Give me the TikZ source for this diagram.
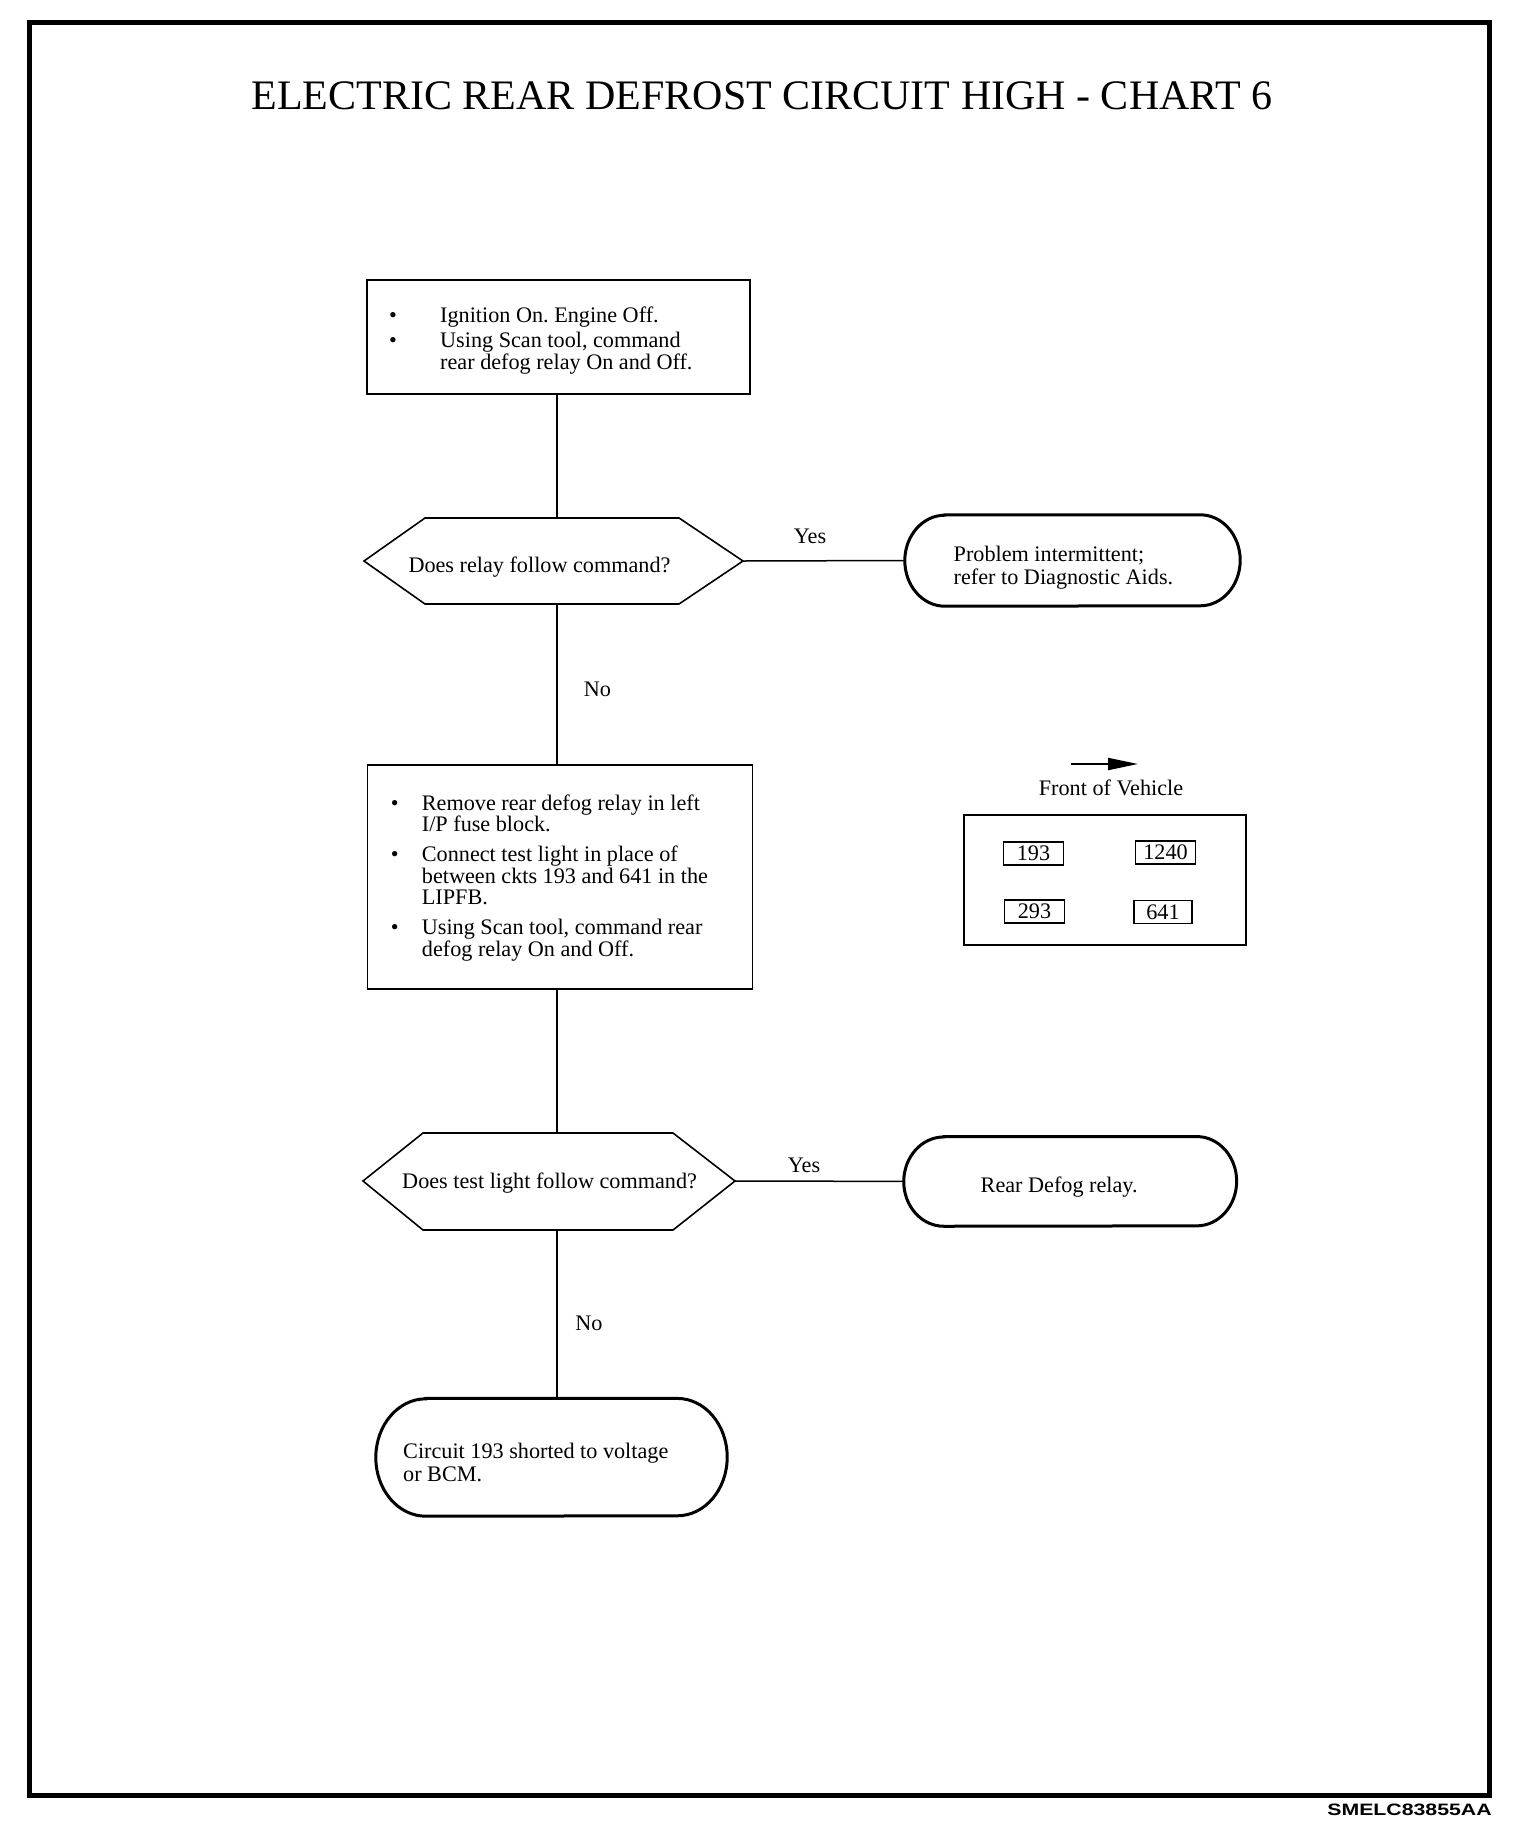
\documentclass[tikz,border=0pt]{standalone}
\usepackage{fontspec}
\setmainfont{Liberation Serif}
\newfontfamily\codefont{Liberation Sans}
\usetikzlibrary{arrows.meta,calc}
\frenchspacing
\newcommand\termoutline[3]{%
  \draw[termline] ($(#1.north west)+(#2,0)$) -- ($(#1.north east)+(-#2,0)$)
    arc[start angle=-90,end angle=90,x radius=#2,y radius=#3]
    -- ($(#1.south west)+(#2,0)$)
    arc[start angle=90,end angle=270,x radius=#2,y radius=#3] -- cycle;}
\begin{document}
\begin{tikzpicture}[x=1pt,y=-1pt,
  bodyfont/.style={font=\fontsize{22.2}{21.5}\selectfont},
  txt/.style={bodyfont, inner sep=0},
  btxt/.style={bodyfont, inner sep=0, align=left, anchor=west},
  ttxt/.style={font=\fontsize{22.2}{23.5}\selectfont, inner sep=0, align=left, anchor=west},
  procbox/.style={draw, line width=1.8, inner sep=0},
  termbox/.style={inner sep=0},
  termline/.style={line width=3},
  hexa/.style={draw, line width=1.6, line join=miter},
  conn/.style={line width=1.5},
  pinbox/.style={draw, line width=1.8, minimum width=60, minimum height=23, inner sep=0, bodyfont},
]
\useasboundingbox (0,0) rectangle (1536,1842);
% frame
\draw[line width=5] (29.5,22.5) rectangle (1489.5,1795.5);
\node[inner sep=0, font=\fontsize{42}{42}\selectfont] (title) at (762,96) {ELECTRIC REAR DEFROST CIRCUIT HIGH - CHART 6};
\node[inner sep=0, anchor=east, font=\codefont\bfseries\fontsize{16.5}{16.5}\selectfont, xscale=1.29] (code) at (1492,1810) {SMELC83855AA};

% box 1
\node[procbox, minimum width=383, minimum height=114] (b1) at (558.5,337) {};
\node[btxt] (b1text) at (389,340.5)
{\makebox[51pt][l]{\textbullet}Ignition On. Engine Off.\\[4pt]
\makebox[51pt][l]{\textbullet}Using Scan tool, command\\
\hspace*{51pt}rear defog relay On and Off.};

% decision 1
\coordinate (d1W) at (364,561);
\coordinate (d1E) at (743,561);
\coordinate (d1N) at (557,518);
\coordinate (d1S) at (557,604);
\draw[hexa] (d1W) -- (425,518) -- (679,518) -- (d1E) -- (679,604) -- (425,604) -- cycle;
\node[txt] (d1) at (539.5,567.5) {Does relay follow command?};

% terminal 1
\node[termbox, minimum width=335, minimum height=91] (t1) at (1072.5,560.5) {};
\termoutline{t1}{40}{45.5}
\node[ttxt] (t1text) at (953.5,567.6) {Problem intermittent;\\refer to Diagnostic Aids.};

% box 2
\node[procbox, minimum width=385, minimum height=224] (b2) at (560,876.7) {};
\node[btxt] (b2text) at (390.7,878)
{\makebox[31pt][l]{\textbullet}Remove rear defog relay in left\\
\hspace*{31pt}I/P fuse block.\\[8.5pt]
\makebox[31pt][l]{\textbullet}Connect test light in place of\\
\hspace*{31pt}between ckts 193 and 641 in the\\
\hspace*{31pt}LIPFB.\\[8.5pt]
\makebox[31pt][l]{\textbullet}Using Scan tool, command rear\\
\hspace*{31pt}defog relay On and Off.};

% decision 2
\coordinate (d2W) at (363,1181);
\coordinate (d2E) at (735,1181);
\coordinate (d2N) at (557,1133);
\coordinate (d2S) at (557,1230);
\draw[hexa] (d2W) -- (423,1133) -- (673,1133) -- (d2E) -- (673,1230) -- (423,1230) -- cycle;
\node[txt] (d2) at (549.6,1183.5) {Does test light follow command?};

% terminal 2
\node[termbox, minimum width=332.5, minimum height=89.3] (t2) at (1070.2,1181.4) {};
\termoutline{t2}{40}{44.65}
\node[ttxt] (t2text) at (980.5,1187.4) {Rear Defog relay.};

% terminal 3
\node[termbox, minimum width=351, minimum height=117.4] (t3) at (551.5,1457.3) {};
\termoutline{t3}{50}{58.7}
\node[ttxt] (t3text) at (403,1462.6) {Circuit 193 shorted to voltage\\or BCM.};

% connectors
\draw[conn] (b1.south -| d1N) -- (d1N);
\draw[conn] (d1E) -- (t1.west);
\draw[conn] (d1S) -- (b2.north -| d1S);
\draw[conn] (b2.south -| d2N) -- (d2N);
\draw[conn] (d2E) -- (t2.west);
\draw[conn] (d2S) -- (t3.north -| d2S);

% labels
\node[txt] (yes1) at (810,536) {Yes};
\node[txt] (no1) at (597.5,689) {No};
\node[txt] (yes2) at (804,1165) {Yes};
\node[txt] (no2) at (589,1323) {No};

% front of vehicle
\coordinate (fvA) at (1071,764);
\coordinate (fvB) at (1138,764);
\draw[line width=2, -{Triangle[length=30pt,width=12pt]}] (fvA) -- (fvB);
\node[txt] (fov) at (1111,787.5) {Front of Vehicle};

% pinout
\node[draw, line width=1.8, minimum width=282, minimum height=130, inner sep=0] (pin) at (1105,880) {};
\node[pinbox] (p193) at (1033.5,853.5) {193};
\node[pinbox] (p1240) at (1165.5,852.5) {1240};
\node[pinbox] (p293) at (1034.5,911.5) {293};
\node[pinbox, minimum width=58] (p641) at (1163,912) {641};
\end{tikzpicture}
\end{document}
